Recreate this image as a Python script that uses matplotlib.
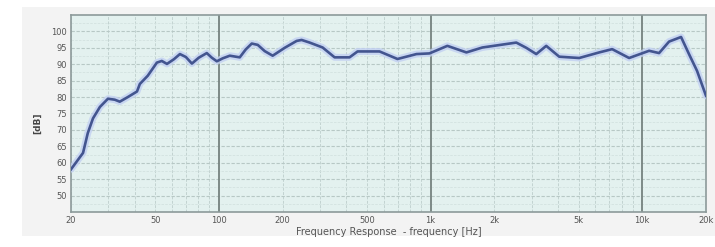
import numpy as np
import matplotlib.pyplot as plt
from matplotlib.patches import Rectangle
from matplotlib.ticker import FixedLocator, NullFormatter

# frequency response
freq = [20, 22.8, 24.0, 25.4, 27.4, 29.9, 32.2, 34.0, 37.1, 41.0, 42.3, 46.1,
        50.9, 53.7, 56.8, 61.2, 65.4, 69.8, 74.5, 80.3, 87.6, 92.5, 97.7,
        104.2, 112.5, 125.4, 133.8, 142.9, 152.5, 164.5, 179.4, 204.4, 232.8,
        245.8, 268.2, 308.9, 351.9, 414, 451.8, 573.7, 697.3, 857.4, 987,
        1200, 1476, 1756, 2540, 2832, 3156, 3518, 4052, 5034, 6257, 7206,
        8667, 10770, 12005, 13385, 15247, 16623, 18140, 20000]
level = [58.0, 63.0, 69.0, 73.5, 77.0, 79.5, 79.2, 78.6, 80.0, 81.7, 84.0, 86.5,
         90.5, 91.0, 90.1, 91.5, 93.1, 92.2, 90.2, 92.0, 93.4, 92.0, 90.9,
         91.8, 92.6, 92.1, 94.5, 96.3, 95.9, 94.0, 92.6, 95.0, 97.1,
         97.4, 96.6, 95.1, 92.1, 92.1, 93.9, 93.9, 91.6, 93.1, 93.3,
         95.6, 93.6, 95.1, 96.6, 95.0, 93.1, 95.6, 92.3, 91.9, 93.6, 94.6,
         91.9, 94.1, 93.4, 96.9, 98.3, 93.1, 88.0, 80.4]

x_ticks = [20, 50, 100, 200, 500, 1000, 2000, 5000, 10000, 20000]
x_labels = ["20", "50", "100", "200", "500", "1k", "2k", "5k", "10k", "20k"]
y_ticks = [50, 55, 60, 65, 70, 75, 80, 85, 90, 95, 100]

fig = plt.figure(figsize=(7.15, 2.47), dpi=100)
bg = Rectangle((0.031, 0.045), 0.969, 0.927, transform=fig.transFigure,
               facecolor="#f3f3f3", edgecolor="none", zorder=-10)
fig.patches.append(bg)

ax = fig.add_axes([0.0993, 0.1417, 0.8881, 0.7976])
ax.set_facecolor("#e3f1ef")
ax.set_xscale("log")
ax.set_xlim(20, 20000)
ax.set_ylim(45, 105)

# grid
minor_x = [m * d for d in [10, 100, 1000, 10000] for m in range(2, 10)
           if 20 <= m * d <= 20000]
for f in minor_x:
    ax.axvline(f, color="#c2d3d1", lw=0.7, ls=(0, (3, 1.5)), zorder=1)
for f in [100, 1000, 10000]:
    ax.axvline(f, color="#75827f", lw=1.3, zorder=2)
for y in np.arange(47.5, 105, 5):
    ax.axhline(y, color="#d3e2e0", lw=0.6, ls=(0, (3, 1.5)), zorder=1)
for y in y_ticks:
    ax.axhline(y, color="#b7c8c5", lw=0.8, ls=(0, (3, 1.5)), zorder=1)

ax.plot(freq, level, color="#c2d0f2", lw=5, alpha=0.8, solid_capstyle="round",
        solid_joinstyle="round", zorder=3)
ax.plot(freq, level, color="#43558f", lw=1.9, solid_joinstyle="round", zorder=4)

ax.xaxis.set_major_locator(FixedLocator(x_ticks))
ax.set_xticklabels(x_labels)
ax.xaxis.set_minor_formatter(NullFormatter())
ax.tick_params(axis="x", which="minor", length=0)
ax.set_yticks(y_ticks)
ax.tick_params(length=0, labelsize=6, colors="#555555", pad=3)

for s in ax.spines.values():
    s.set_color("#8c9a9a")
    s.set_linewidth(1.2)

ax.set_xlabel("Frequency Response  - frequency [Hz]", fontsize=7, color="#555555", labelpad=1)
fig.text(0.052, 0.5, "[dB]", rotation=90, fontsize=6.5, color="#444444",
         ha="center", va="center", fontweight="bold")

fig.savefig("out.png", dpi=100)
